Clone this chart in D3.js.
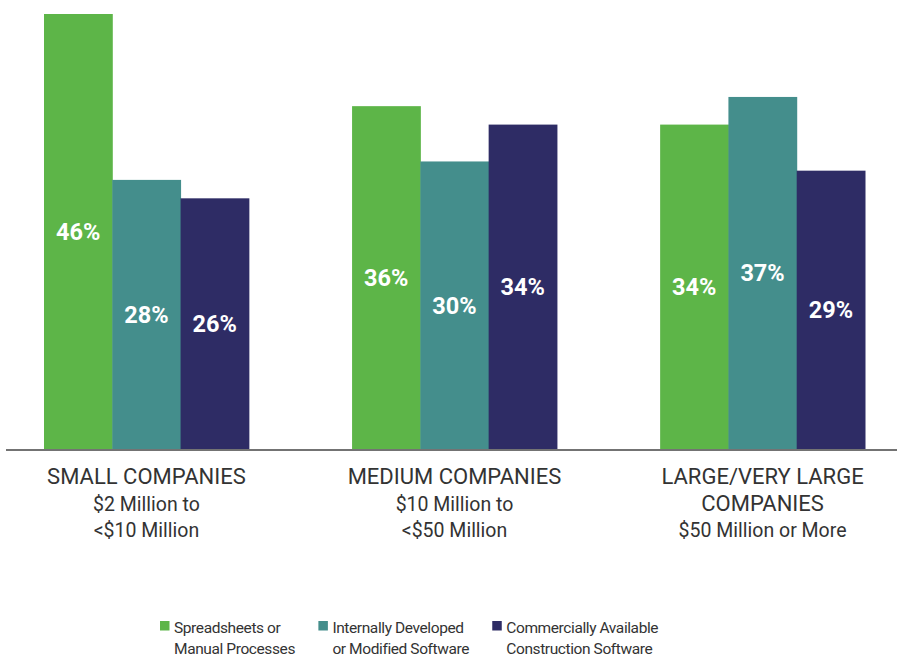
<!DOCTYPE html>
<html>
<head>
<meta charset="utf-8">
<script src="https://cdn.jsdelivr.net/npm/d3@7"></script>
<style>
  html, body { margin: 0; padding: 0; background: #fff; }
  svg { display: block; }
</style>
</head>
<body>
<svg id="chart" width="899" height="661"></svg>
<script>
// Company-size groups, each label split over lines
const categories = ["small", "medium", "large"];
const categoryTitles = [["SMALL COMPANIES"], ["MEDIUM COMPANIES"], ["LARGE/VERY LARGE", "COMPANIES"]];
const categorySubtitles = [["$2 Million to", "<$10 Million"], ["$10 Million to", "<$50 Million"], ["$50 Million or More"]];

// Series: tool used, share of respondents (%)
const seriesKeys = ["spreadsheets", "internal", "commercial"];
const seriesNames = [
  ["Spreadsheets or", "Manual Processes"],
  ["Internally Developed", "or Modified Software"],
  ["Commercially Available", "Construction Software"]
];
const spreadsheets = [46, 36, 34];
const internal = [28, 30, 37];
const commercial = [26, 34, 29];
const seriesColors = ["#5db548", "#448e8c", "#2e2c65"];

const values = { spreadsheets, internal, commercial };

const svg = d3.select("#chart");

const baseY = 449;
const x0 = d3.scaleBand().domain(categories).range([44, 865]).paddingInner(0.335).paddingOuter(0);
const x1 = d3.scaleBand().domain(seriesKeys).range([0, x0.bandwidth()]).padding(0);
const y = d3.scaleLinear().domain([-1.2, 46]).range([baseY, 14]);

const rows = categories.map((c, i) => ({
  cat: c,
  items: seriesKeys.map((k, j) => ({ key: k, value: values[k][i], color: seriesColors[j] }))
}));

const groups = svg.selectAll("g.grp").data(rows).join("g")
  .attr("class", "grp")
  .attr("transform", d => `translate(${x0(d.cat)},0)`);

groups.selectAll("rect").data(d => d.items).join("rect")
  .attr("x", d => x1(d.key))
  .attr("width", x1.bandwidth() + 0.5)
  .attr("y", d => y(d.value))
  .attr("height", d => y.range()[0] - y(d.value))
  .attr("fill", d => d.color);

groups.selectAll("text.val").data(d => d.items).join("text")
  .attr("class", "val")
  .attr("x", d => x1(d.key) + x1.bandwidth() / 2)
  .attr("y", d => (y(d.value) + y.range()[0]) / 2)
  .attr("dy", "0.36em")
  .attr("text-anchor", "middle")
  .attr("fill", "#fff")
  .style("font-family", "Roboto, 'Noto Sans', sans-serif")
  .style("font-weight", 700)
  .style("font-size", "23.5px")
  .text(d => d.value + "%");

// Baseline
svg.append("line")
  .attr("x1", 6).attr("x2", 897)
  .attr("y1", baseY + 1).attr("y2", baseY + 1)
  .attr("stroke", "#444").attr("stroke-width", 1.6);

// Category labels under each group
const labelFont = "Roboto, 'Noto Sans', sans-serif";
categories.forEach((c, i) => {
  const cx = x0(c) + x0.bandwidth() / 2;
  const lines = categoryTitles[i].map(t => ({ t, caps: true }))
    .concat(categorySubtitles[i].map(t => ({ t, caps: false })));
  svg.append("text")
    .attr("text-anchor", "middle")
    .attr("fill", "#333")
    .style("font-family", labelFont)
    .selectAll("tspan").data(lines).join("tspan")
    .attr("x", cx)
    .attr("y", (d, k) => 484 + k * 26.5)
    .style("font-size", d => d.caps ? "22px" : "19.5px")
    .text(d => d.t);
});

// Legend
const legend = svg.append("g");
let lx = 160;
seriesKeys.forEach((k, j) => {
  const g = legend.append("g").attr("transform", `translate(${lx},0)`);
  g.append("rect").attr("x", 0).attr("y", 621).attr("width", 9.5).attr("height", 9.5)
    .attr("fill", seriesColors[j]);
  const t = g.append("text")
    .attr("fill", "#333")
    .style("font-family", labelFont)
    .style("font-size", "15.5px")
    .style("letter-spacing", "-0.4px");
  t.selectAll("tspan").data(seriesNames[j]).join("tspan")
    .attr("x", 14)
    .attr("y", (d, m) => 633 + m * 20.5)
    .text(d => d);
  const w = t.node().getBBox().width;
  lx += 14 + w + 23;
});
</script>
</body>
</html>
